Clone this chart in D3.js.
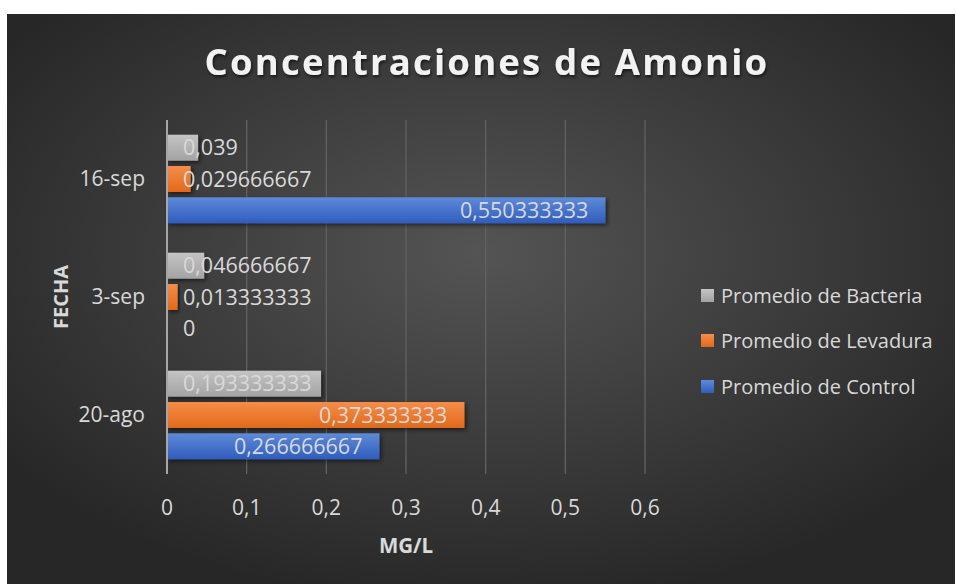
<!DOCTYPE html>
<html>
<head>
<meta charset="utf-8">
<script src="https://cdn.jsdelivr.net/npm/d3@7"></script>
<style>
  body { margin: 0; background: #fff; }
  text { font-family: "Open Sans", sans-serif; }
</style>
</head>
<body>
<div id="chart"></div>
<script>
// data
var fechas = ["16-sep", "3-sep", "20-ago"];
var series = ["Promedio de Bacteria", "Promedio de Levadura", "Promedio de Control"];
var bacteria = [0.039, 0.046666667, 0.193333333];
var levadura = [0.029666667, 0.013333333, 0.373333333];
var control = [0.550333333, 0, 0.266666667];
var xTicks = [0, 0.1, 0.2, 0.3, 0.4, 0.5, 0.6];

var values = [bacteria, levadura, control];
var colors = [["#c4c4c4", "#a3a3a3"], ["#f58d4a", "#e2691a"], ["#5f8ad8", "#2f5dbd"]];

var width = 956, height = 584;
var fmt = function (v) { return String(+v.toFixed(9)).replace(".", ","); };

var svg = d3.select("#chart").append("svg")
    .attr("width", width)
    .attr("height", height);

var defs = svg.append("defs");

// chart background
var bg = defs.append("radialGradient").attr("id", "bg")
    .attr("cx", "50%").attr("cy", "42%").attr("r", "62%");
bg.append("stop").attr("offset", "0%").attr("stop-color", "#545454");
bg.append("stop").attr("offset", "100%").attr("stop-color", "#272727");

colors.forEach(function (c, i) {
    var g = defs.append("linearGradient").attr("id", "bar" + i)
        .attr("x1", 0).attr("y1", 0).attr("x2", 0).attr("y2", 1);
    g.append("stop").attr("offset", "0%").attr("stop-color", c[0]);
    g.append("stop").attr("offset", "100%").attr("stop-color", c[1]);
});

var shadow = defs.append("filter").attr("id", "shadow")
    .attr("x", "-10%").attr("y", "-30%").attr("width", "130%").attr("height", "180%");
shadow.append("feDropShadow").attr("dx", 2).attr("dy", 2).attr("stdDeviation", 2)
    .attr("flood-color", "#000").attr("flood-opacity", 0.55);

var tshadow = defs.append("filter").attr("id", "tshadow");
tshadow.append("feDropShadow").attr("dx", 1).attr("dy", 2).attr("stdDeviation", 1.5)
    .attr("flood-color", "#000").attr("flood-opacity", 0.6);

svg.append("rect")
    .attr("x", 7).attr("y", 14)
    .attr("width", width - 8).attr("height", height - 14)
    .attr("fill", "url(#bg)");

// scales
var x = d3.scaleLinear().domain([0, 0.6]).range([167, 645]);
var y = d3.scaleBand().domain(fechas).range([120, 474]);
var ySub = d3.scaleBand().domain(d3.range(series.length))
    .range([0, y.bandwidth()]).paddingInner(0.17).paddingOuter(0.47);

// gridlines
svg.append("g")
    .selectAll("line")
    .data(xTicks.slice(1))
    .enter()
    .append("line")
    .attr("x1", function (d) { return x(d); })
    .attr("x2", function (d) { return x(d); })
    .attr("y1", 120).attr("y2", 474)
    .attr("stroke", "#626262")
    .attr("stroke-width", 1.3);

// bars
var labelColor = "#d9d9d9";
values.forEach(function (vals, si) {
    var g = svg.append("g");
    g.selectAll("rect")
        .data(vals)
        .enter()
        .append("rect")
        .attr("x", x(0))
        .attr("y", function (d, i) { return y(fechas[i]) + ySub(si); })
        .attr("width", function (d) { return x(d) - x(0); })
        .attr("height", ySub.bandwidth())
        .attr("fill", "url(#bar" + si + ")")
        .attr("filter", function (d) { return d > 0 ? "url(#shadow)" : null; });

    g.selectAll("text")
        .data(vals)
        .enter()
        .append("text")
        .attr("y", function (d, i) { return y(fechas[i]) + ySub(si) + ySub.bandwidth() / 2; })
        .attr("dy", "0.35em")
        .attr("fill", labelColor)
        .style("font-size", "21.5px")
        .text(function (d) { return fmt(d); })
        .attr("x", function (d) {
            var w = this.getComputedTextLength();
            return Math.max(x(0) + 16, x(d) - 17 - w);
        });
});

// y axis line
svg.append("line")
    .attr("x1", x(0)).attr("x2", x(0))
    .attr("y1", 120).attr("y2", 474)
    .attr("stroke", "#a6a6a6")
    .attr("stroke-width", 2);

// x tick labels
svg.append("g")
    .selectAll("text")
    .data(xTicks)
    .enter()
    .append("text")
    .attr("x", function (d) { return x(d); })
    .attr("y", 508)
    .attr("dy", "0.35em")
    .attr("text-anchor", "middle")
    .attr("fill", labelColor)
    .style("font-size", "21px")
    .text(function (d) { return d === 0 ? "0" : fmt(d); });

// category labels
svg.append("g")
    .selectAll("text")
    .data(fechas)
    .enter()
    .append("text")
    .attr("x", 145)
    .attr("y", function (d) { return y(d) + y.bandwidth() / 2; })
    .attr("dy", "0.35em")
    .attr("text-anchor", "end")
    .attr("fill", labelColor)
    .style("font-size", "21px")
    .text(function (d) { return d; });

// axis titles
svg.append("text")
    .attr("x", 406).attr("y", 546)
    .attr("dy", "0.35em")
    .attr("text-anchor", "middle")
    .attr("fill", labelColor)
    .style("font-size", "20.5px")
    .style("font-weight", "bold")
    .text("MG/L");

svg.append("text")
    .attr("transform", "translate(61,297) rotate(-90)")
    .attr("dy", "0.35em")
    .attr("text-anchor", "middle")
    .attr("fill", labelColor)
    .style("font-size", "20px")
    .style("font-weight", "bold")
    .text("FECHA");

// title
svg.append("text")
    .attr("x", 487).attr("y", 62)
    .attr("dy", "0.35em")
    .attr("text-anchor", "middle")
    .attr("fill", "#f2f2f2")
    .style("font-size", "36.5px")
    .style("font-weight", "bold")
    .style("letter-spacing", "2.2px")
    .attr("filter", "url(#tshadow)")
    .text("Concentraciones de Amonio");

// legend
var legend = svg.append("g")
    .selectAll("g")
    .data(series)
    .enter()
    .append("g")
    .attr("transform", function (d, i) { return "translate(701," + [296, 341, 387][i] + ")"; });

legend.append("rect")
    .attr("x", 0).attr("y", -7)
    .attr("width", 13).attr("height", 13)
    .attr("fill", function (d, i) { return "url(#bar" + i + ")"; });

legend.append("text")
    .attr("x", 20)
    .attr("dy", "0.35em")
    .attr("fill", labelColor)
    .style("font-size", "20px")
    .text(function (d) { return d; });
</script>
</body>
</html>
